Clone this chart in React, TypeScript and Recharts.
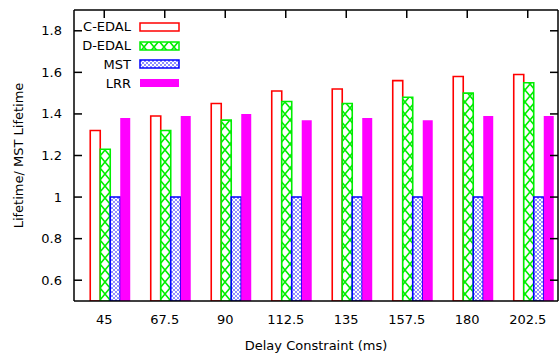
import React from 'react';
import { BarChart, Bar, XAxis, YAxis, Legend } from 'recharts';

const delays = [45, 67.5, 90, 112.5, 135, 157.5, 180, 202.5];
const cedal = [1.32, 1.39, 1.45, 1.51, 1.52, 1.56, 1.58, 1.59];
const dedal = [1.23, 1.32, 1.37, 1.46, 1.45, 1.48, 1.50, 1.55];
const mst = [1.0, 1.0, 1.0, 1.0, 1.0, 1.0, 1.0, 1.0];
const lrr = [1.38, 1.39, 1.40, 1.37, 1.38, 1.37, 1.39, 1.39];
const yTicks = [0.6, 0.8, 1.0, 1.2, 1.4, 1.6, 1.8];

const data = delays.map((d, i) => ({
  delay: d,
  cedal: cedal[i],
  dedal: dedal[i],
  mst: mst[i],
  lrr: lrr[i],
}));

const FONT = '"DejaVu Sans", Verdana, sans-serif';
const FS = 13;
const TICK_LEN = 8;

const series = [
  { key: 'cedal', name: 'C-EDAL', fill: '#ffffff', stroke: '#ff0000' },
  { key: 'dedal', name: 'D-EDAL', fill: 'url(#pDedal)', stroke: '#00ee00' },
  { key: 'mst', name: 'MST', fill: 'url(#pMst)', stroke: '#0000ff' },
  { key: 'lrr', name: 'LRR', fill: '#ff00ff', stroke: 'none' },
];

const LegendContent = () => (
  <div style={{ fontFamily: FONT, fontSize: FS, color: '#000' }}>
    {series.map((s) => (
      <div key={s.key} style={{ display: 'flex', alignItems: 'center', height: 18.7 }}>
        <div style={{ width: 57, textAlign: 'right' }}>{s.name}</div>
        <svg width={42} height={10} style={{ marginLeft: 8 }}>
          <rect x={1} y={1} width={39} height={8} fill={s.fill} stroke={s.stroke === 'none' ? 'none' : s.stroke} strokeWidth={1.5} />
        </svg>
      </div>
    ))}
  </div>
);

const axisStroke = { stroke: '#000', strokeWidth: 1.5 };
const fmtY = (v: number) => (v === 1 ? '1' : v.toFixed(1));

const LeftTick = (p: any) => (
  <g>
    <rect x={p.x + 12} y={p.y - 0.75} width={TICK_LEN} height={1.5} fill="#000" />
    <text x={p.x} y={p.y} dy="0.35em" textAnchor="end" fill="#000" fontSize={FS} fontFamily={FONT}>
      {fmtY(p.payload.value)}
    </text>
  </g>
);

const TopTick = (p: any) => (
  <rect x={p.x - 0.75} y={p.y} width={1.5} height={TICK_LEN} fill="#000" />
);

const RightTick = (p: any) => (
  <rect x={p.x - TICK_LEN} y={p.y - 0.75} width={TICK_LEN} height={1.5} fill="#000" />
);

export default function App() {
  return (
    <div style={{ position: 'absolute', left: 0, top: 0, width: 559, height: 358, background: '#fff' }}>
      <BarChart
        width={559}
        height={358}
        data={data}
        margin={{ top: 9, right: 0, bottom: 0, left: 0 }}
        barGap={0}
        barCategoryGap={0}
      >
        <defs>
          <pattern id="pDedal" patternUnits="userSpaceOnUse" width={10} height={12}>
            <rect x={0} y={0} width={10} height={12} fill="#ffffff" />
            <path d="M0,0 L10,12 M10,0 L0,12" stroke="#00ee00" strokeWidth={1.6} fill="none" />
          </pattern>
          <pattern id="pMst" patternUnits="userSpaceOnUse" width={4} height={4}>
            <rect x={0} y={0} width={4} height={4} fill="#ffffff" />
            <path d="M0,0 L4,4 M4,0 L0,4" stroke="#8080ff" strokeWidth={0.9} fill="none" />
          </pattern>
        </defs>
        <XAxis
          xAxisId="bars"
          type="number"
          dataKey="delay"
          domain={[31.43, 211.43]}
          allowDataOverflow
          height={0}
          hide
        />
        <XAxis
          xAxisId="lbl"
          type="category"
          dataKey="delay"
          height={57}
          tickLine={false}
          tickSize={8}
          tickMargin={6}
          axisLine={axisStroke}
          tick={{ fill: '#000', fontSize: FS, fontFamily: FONT }}
          label={{ value: 'Delay Constraint (ms)', position: 'insideBottom', offset: 8, fill: '#000', fontSize: FS, fontFamily: FONT }}
        />
        <XAxis
          xAxisId="top"
          type="category"
          dataKey="delay"
          orientation="top"
          height={1}
          tickSize={0}
          tickMargin={0}
          tickLine={false}
          tick={TopTick}
          axisLine={axisStroke}
        />
        <YAxis
          yAxisId="y"
          domain={[0.5, 1.9]}
          ticks={yTicks}
          allowDataOverflow
          width={74}
          tickSize={0}
          tickMargin={12}
          tickLine={false}
          axisLine={axisStroke}
          tick={LeftTick}
          label={{ value: 'Lifetime/ MST Lifetime', angle: -90, position: 'insideLeft', offset: 18, style: { textAnchor: 'middle' }, fill: '#000', fontSize: FS, fontFamily: FONT }}
        />
        <YAxis
          yAxisId="yr"
          orientation="right"
          domain={[0.5, 1.9]}
          ticks={yTicks}
          allowDataOverflow
          width={1}
          tickSize={0}
          tickMargin={0}
          tickLine={false}
          tick={RightTick}
          axisLine={axisStroke}
        />
        <Legend
          layout="vertical"
          align="center"
          verticalAlign="middle"
          wrapperStyle={{ left: 74, top: 17.6, width: 120 }}
          content={<LegendContent />}
        />
        {series.map((s) => (
          <Bar
            key={s.key}
            dataKey={s.key}
            name={s.name}
            xAxisId="bars"
            yAxisId="y"
            barSize={10}
            fill={s.fill}
            stroke={s.stroke}
            strokeWidth={s.key === 'lrr' ? 0 : 1.6}
            isAnimationActive={false}
          />
        ))}
      </BarChart>
    </div>
  );
}
